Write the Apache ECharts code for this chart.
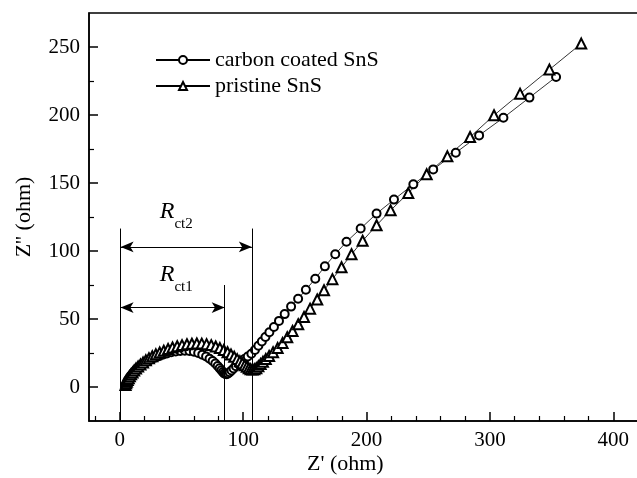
<!DOCTYPE html>
<html>
<head>
<meta charset="utf-8">
<script src="https://cdn.jsdelivr.net/npm/echarts@6/dist/echarts.min.js"></script>
<style>html,body{margin:0;padding:0;background:#fff;}#c{width:637px;height:478px;}</style>
</head>
<body>
<div id="c"></div>
<script>
// ---- data ----
const seriesNames = ['carbon coated SnS', 'pristine SnS'];
const carbonX = [4.5,5.0,5.5,6.1,6.8,7.6,8.5,9.5,10.6,11.8,13.2,14.8,16.6,18.6,20.8,23.2,25.8,28.6,31.6,34.8,38.2,41.7,45.3,49.0,52.7,56.4,60.0,63.5,66.8,69.9,72.7,75.2,77.4,79.3,80.9,82.3,83.5,84.6,85.6,86.6,87.7,89.0,90.5,92.2,94.1,96.2,98.5,101.0,103.7,106.6,109.5,112.3,115.1,118.0,121.2,124.9,129.0,133.6,138.8,144.5,150.8,158.4,166.2,174.6,183.7,195.2,208.1,222.2,237.9,254.0,272.3,291.2,310.9,332.0,353.6];
const carbonY = [1.2,2.2,3.2,4.3,5.4,6.6,7.8,9.0,10.2,11.4,12.7,14.0,15.3,16.6,17.9,19.2,20.4,21.6,22.7,23.8,24.7,25.5,26.1,26.5,26.7,26.5,25.9,25.0,23.8,22.4,20.8,19.1,17.3,15.5,13.8,12.3,11.0,10.0,9.5,9.4,9.9,10.9,12.1,13.6,15.2,16.9,18.7,20.5,22.4,24.5,27.2,30.3,33.4,36.7,40.2,44.1,48.6,53.6,59.1,64.9,71.5,79.6,88.7,97.6,106.8,116.5,127.5,137.8,149.0,160.0,172.3,185.0,198.0,212.8,228.0];
const pristineX = [4.6,5.1,5.7,6.4,7.2,8.1,9.1,10.3,11.6,13.1,14.8,16.7,18.8,21.1,23.6,26.3,29.2,32.3,35.6,39.1,42.7,46.5,50.4,54.4,58.4,62.4,66.4,70.3,74.1,77.7,81.1,84.3,87.3,90.1,92.7,95.1,97.3,99.3,101.2,102.9,104.5,106.0,107.5,109.0,110.6,112.3,114.1,116.0,118.3,121.0,124.2,127.9,131.9,135.7,140.0,144.6,149.3,154.2,160.0,165.5,172.3,179.7,187.8,196.8,208.1,219.5,233.8,248.7,265.5,283.9,303.3,324.4,348.2,374.0];
const pristineY = [1.5,2.7,3.9,5.2,6.5,7.9,9.3,10.7,12.1,13.6,15.1,16.6,18.1,19.6,21.1,22.6,24.0,25.4,26.7,27.9,29.0,30.0,30.8,31.4,31.8,32.0,31.9,31.5,30.8,29.8,28.6,27.2,25.6,23.9,22.2,20.5,18.9,17.4,16.0,14.8,13.8,13.1,12.8,13.0,13.8,15.2,16.9,18.6,20.6,22.8,25.5,28.7,32.4,36.6,41.2,46.1,51.5,57.6,64.3,71.1,79.3,88.0,97.6,107.5,118.9,129.9,142.6,156.4,169.6,183.8,199.8,215.7,233.4,252.5];

const xMajorTicks = [0, 100, 200, 300, 400];
const xMinorTicks = [-20, 20, 40, 60, 80, 120, 140, 160, 180, 220, 240, 260, 280, 320, 340, 360, 380];
const yMajorTicks = [0, 50, 100, 150, 200, 250];
const yMinorTicks = [25, 75, 125, 175, 225];

// annotation values (ohm)
const rctLeft = 0.6;
const rctRight = [85, 107];          // Rct1, Rct2
const rctArrowY = [58.4, 103];
const rctLineTop = [75, 116.5];
const rctNames = ['ct1', 'ct2'];
const rLabelAt = [[38.3, 82.6], [38.3, 128.7]];
const subLabelAt = [[51.7, 73.5], [51.7, 119.6]];

// ---- chart ----
const FONT = 'Liberation Serif, Times New Roman, serif';
const zip = (a, b) => a.map((v, i) => [v, b[i]]);

const chart = echarts.init(document.getElementById('c'), null, {renderer: 'canvas'});

const axisCommon = {
  type: 'value', splitLine: {show: false}
};

const markLineData = [];
markLineData.push([{coord: [rctLeft, -25], symbol: 'none'}, {coord: [rctLeft, rctLineTop[1]], symbol: 'none'}]);
for (let i = 0; i < 2; i++) {
  markLineData.push([{coord: [rctRight[i], -25], symbol: 'none'}, {coord: [rctRight[i], rctLineTop[i]], symbol: 'none'}]);
  markLineData.push([{coord: [rctLeft, rctArrowY[i]], symbol: 'arrow', symbolSize: [8, 13]}, {coord: [rctRight[i], rctArrowY[i]], symbol: 'arrow', symbolSize: [8, 13]}]);
}
const markPointData = [];
for (let i = 0; i < 2; i++) {
  markPointData.push({coord: rLabelAt[i], symbolSize: 0, label: {show: true, position: 'inside', formatter: 'R', fontFamily: FONT, fontStyle: 'italic', fontSize: 24, color: '#000'}});
  markPointData.push({coord: subLabelAt[i], symbolSize: 0, label: {show: true, position: 'inside', formatter: rctNames[i], fontFamily: FONT, fontSize: 15, color: '#000'}});
}

chart.setOption({
  animation: false,
  backgroundColor: '#fff',
  textStyle: {fontFamily: FONT, color: '#000'},
  grid: {left: 89, top: 13, right: -1, bottom: 57, containLabel: false, outerBoundsMode: 'none',
         show: true, borderColor: '#000', borderWidth: 1.5, backgroundColor: 'transparent'},
  legend: {
    data: seriesNames, orient: 'vertical', left: 150, top: 44,
    itemWidth: 54, itemHeight: 10, itemGap: 4,
    textStyle: {fontSize: 22, fontFamily: FONT, color: '#000'}
  },
  xAxis: [
    Object.assign({}, axisCommon, {
      min: -25, max: 420, position: 'bottom',
      axisLine: {show: true, onZero: false, lineStyle: {color: '#000', width: 1.5}},
      axisTick: {show: true, inside: true, length: 9, customValues: xMajorTicks, lineStyle: {color: '#000', width: 1.5}},
      axisLabel: {show: true, customValues: xMajorTicks, fontSize: 21, fontFamily: FONT, color: '#000', margin: 9}
    }),
    Object.assign({}, axisCommon, {
      min: -25, max: 420, position: 'bottom',
      axisLine: {show: false, onZero: false},
      axisTick: {show: true, inside: true, length: 5, customValues: xMinorTicks, lineStyle: {color: '#000', width: 1.2}},
      axisLabel: {show: false}
    })
  ],
  yAxis: [
    Object.assign({}, axisCommon, {
      min: -25, max: 275, position: 'left',
      name: "Z'' (ohm)", nameLocation: 'middle', nameGap: 54, nameRotate: 90,
      nameTextStyle: {fontSize: 22, fontFamily: FONT, color: '#000'},
      axisLine: {show: true, onZero: false, lineStyle: {color: '#000', width: 1.5}},
      axisTick: {show: true, inside: true, length: 9, customValues: yMajorTicks, lineStyle: {color: '#000', width: 1.5}},
      axisLabel: {show: true, customValues: yMajorTicks, fontSize: 21, fontFamily: FONT, color: '#000', margin: 9}
    }),
    Object.assign({}, axisCommon, {
      min: -25, max: 275, position: 'left',
      axisLine: {show: false, onZero: false},
      axisTick: {show: true, inside: true, length: 5, customValues: yMinorTicks, lineStyle: {color: '#000', width: 1.2}},
      axisLabel: {show: false}
    })
  ],
  graphic: [{
    type: 'text', left: 307, top: 453,
    style: {text: "Z' (ohm)", font: '22px ' + FONT, fill: '#000'}
  }],
  series: [
    {
      name: 'annotations', type: 'line', data: [], xAxisIndex: 0, yAxisIndex: 0, silent: true,
      markLine: {silent: true, animation: false, symbol: 'none', label: {show: false},
                 lineStyle: {color: '#000', width: 1, type: 'solid'}, emphasis: {disabled: true}, data: markLineData},
      markPoint: {silent: true, animation: false, itemStyle: {color: 'transparent'}, data: markPointData}
    },
    {
      name: seriesNames[0], type: 'line', data: zip(carbonX, carbonY), xAxisIndex: 0, yAxisIndex: 0,
      symbol: 'emptyCircle', symbolSize: 8, showAllSymbol: true,
      lineStyle: {color: '#000', width: 0.8},
      itemStyle: {color: '#000', borderColor: '#000', borderWidth: 0.6},
      emphasis: {disabled: true}
    },
    {
      name: seriesNames[1], type: 'line', data: zip(pristineX, pristineY), xAxisIndex: 0, yAxisIndex: 0,
      symbol: 'emptyTriangle', symbolSize: 10, showAllSymbol: true,
      lineStyle: {color: '#000', width: 0.8},
      itemStyle: {color: '#000', borderColor: '#000', borderWidth: 0.6},
      emphasis: {disabled: true}
    }
  ]
});
</script>
</body>
</html>
